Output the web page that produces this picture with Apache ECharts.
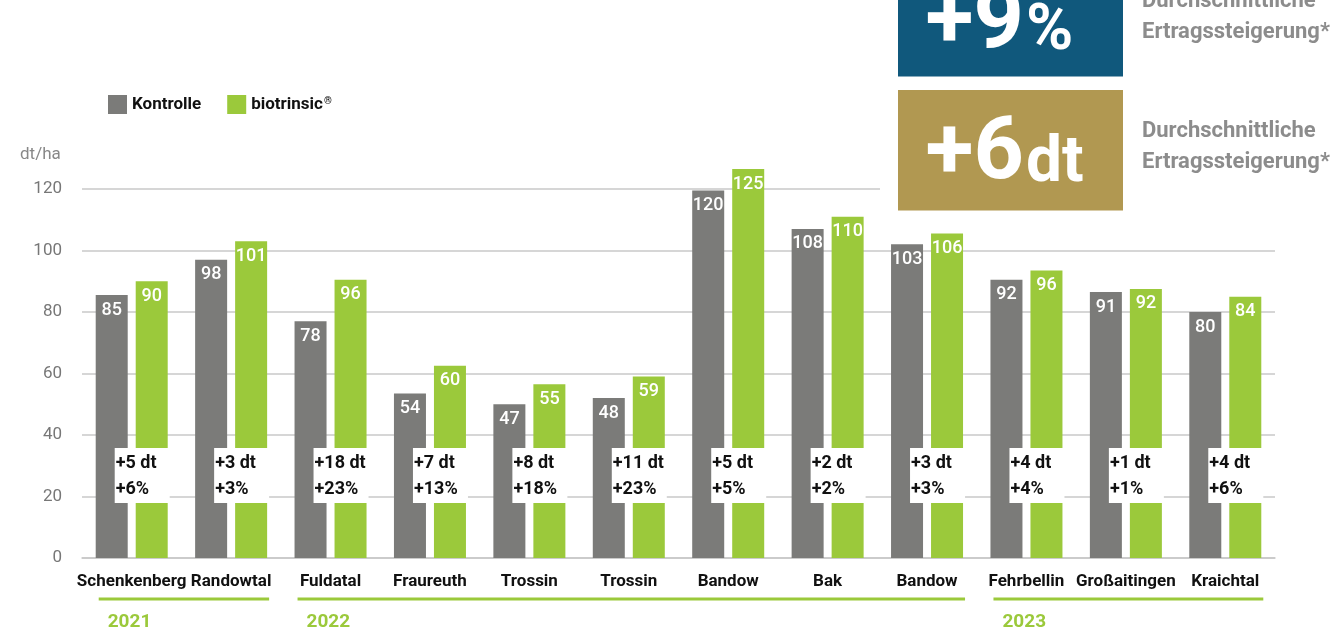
<!DOCTYPE html>
<html>
<head>
<meta charset="utf-8">
<script src="https://cdn.jsdelivr.net/npm/echarts@6/dist/echarts.min.js"></script>
<style>
html,body{margin:0;padding:0;background:#fff;}
#chart{width:1342px;height:632px;}
</style>
</head>
<body>
<div id="chart"></div>
<script>
// ---- data ----
const categories = ['Schenkenberg','Randowtal','Fuldatal','Fraureuth','Trossin','Trossin','Bandow','Bak','Bandow','Fehrbellin','Großaitingen','Kraichtal'];
// bar heights as drawn in the picture (dt/ha)
const kontrolleBars  = [85.5, 97, 77, 53.5, 50, 52, 119.5, 107, 102, 90.5, 86.5, 80];
const biotrinsicBars = [90, 103, 90.5, 62.5, 56.5, 59, 126.5, 111, 105.5, 93.5, 87.5, 85];
// printed value labels
const kontrolleLabels  = [85, 98, 78, 54, 47, 48, 120, 108, 103, 92, 91, 80];
const biotrinsicLabels = [90, 101, 96, 60, 55, 59, 125, 110, 106, 96, 92, 84];
// printed differences
const diffDt  = [5, 3, 18, 7, 8, 11, 5, 2, 3, 4, 1, 4];
const diffPct = [6, 3, 23, 13, 18, 23, 5, 2, 3, 4, 1, 6];
// year groups
const years = ['2021', '2022', '2023'];
const yearFirst = [0, 2, 9];
const yearLast  = [1, 8, 11];
const yTicks = [0, 20, 40, 60, 80, 100, 120];
const kpiPct = '+9';
const kpiDt = '+6';

// ---- style ----
const GRAY = '#7b7b79';
const GREEN = '#9bc93b';
const FONT = 'Roboto, "Noto Sans", sans-serif';

const chart = echarts.init(document.getElementById('chart'), null, {renderer: 'canvas'});

const option = {
  animation: false,
  textStyle: {fontFamily: FONT},
  grid: {left: 82, right: 67, top: 189, bottom: 74, containLabel: false},
  legend: {
    left: 108, top: 95, padding: 0,
    itemWidth: 19, itemHeight: 19, itemGap: 26,
    icon: 'rect',
    data: ['Kontrolle', 'biotrinsic®'],
    formatter: function (name) {
      return name === 'biotrinsic®' ? '{n|biotrinsic}{s|®}' : '{n|' + name + '}';
    },
    textStyle: {
      rich: {
        n: {fontFamily: FONT, fontSize: 17, fontWeight: 'bold', color: '#111'},
        s: {fontFamily: FONT, fontSize: 10, fontWeight: 'bold', color: '#111', padding: [0, 0, 7, 1]}
      }
    }
  },
  xAxis: {
    type: 'category',
    data: categories,
    axisLine: {lineStyle: {color: '#c8c8c8', width: 1.5}},
    axisTick: {show: false},
    axisLabel: {interval: 0, margin: 15, fontFamily: FONT, fontSize: 17, fontWeight: 'bold', color: '#111'}
  },
  yAxis: {
    type: 'value',
    min: yTicks[0], max: yTicks[yTicks.length - 1], interval: yTicks[1] - yTicks[0],
    axisLine: {show: false},
    axisTick: {show: false},
    axisLabel: {margin: 20, fontFamily: FONT, fontSize: 17, color: '#777'},
    splitLine: {lineStyle: {color: '#c8c8c8', width: 1.5}}
  },
  series: [
    {
      name: 'Kontrolle', type: 'bar', data: kontrolleBars, clip: false,
      barWidth: 32, barGap: '25%',
      itemStyle: {color: GRAY},
      label: {show: true, position: 'insideTop', distance: 6, color: '#fff', fontFamily: FONT, fontSize: 18, fontWeight: 500,
        formatter: p => String(kontrolleLabels[p.dataIndex])},
      z: 2
    },
    {
      name: 'biotrinsic®', type: 'bar', data: biotrinsicBars, clip: false,
      barWidth: 32, barGap: '25%',
      itemStyle: {color: GREEN},
      label: {show: true, position: 'insideTop', distance: 6, color: '#fff', fontFamily: FONT, fontSize: 18, fontWeight: 500,
        formatter: p => String(biotrinsicLabels[p.dataIndex])},
      z: 2
    },
    {
      name: 'diff', type: 'custom', clip: false, z: 10,
      data: diffDt.map((d, i) => [i, d, diffPct[i]]),
      encode: {x: 0, y: 1},
      renderItem: function (params, api) {
        const p = api.coord([api.value(0), 0]);
        const bx = p[0] - 17, by = p[1] - 110;
        return {
          type: 'group',
          children: [
            {type: 'rect', shape: {x: bx, y: by, width: 55, height: 55}, style: {fill: '#fff'}},
            {type: 'text', style: {
              x: bx + 1, y: by + 2,
              text: '+' + api.value(1) + ' dt\n+' + api.value(2) + '%',
              fill: '#111', fontFamily: FONT, fontSize: 18, fontWeight: 'bold',
              lineHeight: 26, align: 'left', verticalAlign: 'top'
            }}
          ]
        };
      }
    }
  ]
};
chart.setOption(option);

// ---- annotations placed from the axis scale ----
const elements = [];
elements.push({type: 'text', style: {x: 20, y: 155, text: 'dt/ha', fill: '#888', font: '17px ' + FONT, align: 'left', verticalAlign: 'middle'}});
years.forEach((y, k) => {
  const x0 = chart.convertToPixel({xAxisIndex: 0}, yearFirst[k]) - 33;
  const x1 = chart.convertToPixel({xAxisIndex: 0}, yearLast[k]) + 38;
  elements.push({type: 'rect', shape: {x: x0, y: 597.5, width: x1 - x0, height: 3}, style: {fill: GREEN}});
  elements.push({type: 'text', style: {x: x0 + 9, y: 622, text: y, fill: GREEN, font: 'bold 19px ' + FONT, align: 'left', verticalAlign: 'middle'}});
});
// KPI boxes
elements.push({type: 'rect', shape: {x: 880, y: 0, width: 462, height: 214}, style: {fill: '#fff'}, z: 100});
elements.push({type: 'rect', shape: {x: 898, y: -44, width: 225, height: 120.5}, style: {fill: '#10587c'}, z: 101});
elements.push({type: 'rect', shape: {x: 898, y: 90, width: 225, height: 120.5}, style: {fill: '#b19851'}, z: 101});
elements.push({type: 'text', z: 102, style: {x: 1024, y: 25, text: kpiPct, fill: '#fff', font: 'bold 88px ' + FONT, align: 'right', verticalAlign: 'middle'}});
elements.push({type: 'text', z: 102, style: {x: 1026, y: 33, text: '%', fill: '#fff', font: 'bold 64px ' + FONT, align: 'left', verticalAlign: 'middle'}});
elements.push({type: 'text', z: 102, style: {x: 1024, y: 156, text: kpiDt, fill: '#fff', font: 'bold 88px ' + FONT, align: 'right', verticalAlign: 'middle'}});
elements.push({type: 'text', z: 102, style: {x: 1026, y: 165, text: 'dt', fill: '#fff', font: 'bold 64px ' + FONT, align: 'left', verticalAlign: 'middle'}});
elements.push({type: 'text', z: 102, style: {x: 1142, y: 17, text: 'Durchschnittliche\nErtragssteigerung*', fill: '#8c8c8c', font: 'bold 22px ' + FONT, lineHeight: 31.7, align: 'left', verticalAlign: 'middle'}});
elements.push({type: 'text', z: 102, style: {x: 1142, y: 147, text: 'Durchschnittliche\nErtragssteigerung*', fill: '#8c8c8c', font: 'bold 22px ' + FONT, lineHeight: 31.7, align: 'left', verticalAlign: 'middle'}});
chart.setOption({graphic: {elements: elements}});
</script>
</body>
</html>
